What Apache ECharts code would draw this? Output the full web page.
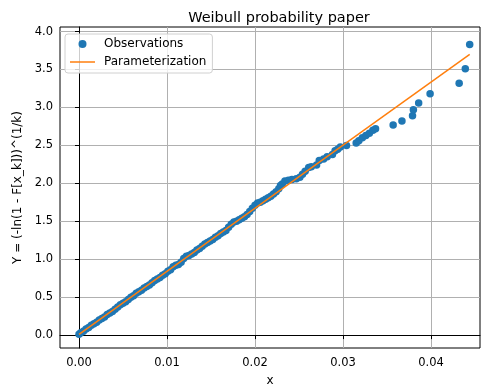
<!DOCTYPE html>
<html>
<head>
<meta charset="utf-8">
<script src="https://cdn.jsdelivr.net/npm/echarts@6/dist/echarts.min.js"></script>
<style>
  html, body { margin: 0; padding: 0; background: #fff; }
  #chart { width: 481px; height: 387px; }
</style>
</head>
<body>
<div id="chart"></div>
<script>
// observed x values (sorted) and their transformed Y values
const obsX = [
  0.0000, 0.0002, 0.0005, 0.0008, 0.0011, 0.0014, 0.0017, 0.0020, 0.0023, 0.0026,
  0.0029, 0.0032, 0.0035, 0.0038, 0.0041, 0.0044, 0.0047, 0.0050, 0.0053, 0.0056,
  0.0059, 0.0062, 0.0065, 0.0068, 0.0071, 0.0074, 0.0077, 0.0080, 0.0083, 0.0086,
  0.0089, 0.0092, 0.0095, 0.0098, 0.0101, 0.0104, 0.0107, 0.0110, 0.0113, 0.0116,
  0.0119, 0.0122, 0.0125, 0.0128, 0.0131, 0.0134, 0.0137, 0.0140, 0.0143, 0.0146,
  0.0149, 0.0152, 0.0155, 0.0158, 0.0161, 0.0164, 0.0167, 0.0170, 0.0173, 0.0176,
  0.0179, 0.0182, 0.0185, 0.0188, 0.0191, 0.0194, 0.0197, 0.0200, 0.0203, 0.0206,
  0.0209, 0.0212, 0.0215, 0.0218, 0.0221, 0.0224, 0.0227, 0.0229,
  0.0231, 0.0234, 0.0238, 0.0242, 0.0247, 0.0251, 0.0254, 0.0257, 0.0261, 0.0264,
  0.0270, 0.0273, 0.0278, 0.0282, 0.0288, 0.0291, 0.0294, 0.0297, 0.0304, 0.0315,
  0.0318, 0.0322, 0.0326, 0.0330, 0.0334, 0.0337, 0.0357, 0.0367, 0.0379, 0.0380,
  0.0386, 0.0399, 0.0432, 0.0439, 0.0444
];
const obsY = [
  0.01, 0.03, 0.05, 0.08, 0.10, 0.13, 0.15, 0.17, 0.20, 0.22,
  0.24, 0.27, 0.29, 0.31, 0.34, 0.37, 0.40, 0.42, 0.44, 0.47,
  0.50, 0.52, 0.55, 0.57, 0.59, 0.62, 0.64, 0.66, 0.69, 0.72,
  0.74, 0.76, 0.79, 0.81, 0.84, 0.86, 0.90, 0.92, 0.93, 0.96,
  1.01, 1.04, 1.05, 1.07, 1.09, 1.12, 1.14, 1.17, 1.20, 1.22,
  1.24, 1.26, 1.29, 1.31, 1.34, 1.36, 1.38, 1.42, 1.46, 1.49,
  1.50, 1.52, 1.54, 1.56, 1.59, 1.63, 1.67, 1.71, 1.74, 1.75,
  1.77, 1.79, 1.81, 1.83, 1.86, 1.89, 1.93, 1.97,
  1.99, 2.03, 2.04, 2.05, 2.06, 2.08, 2.12, 2.16, 2.21, 2.22,
  2.24, 2.30, 2.32, 2.35, 2.38, 2.43, 2.45, 2.48, 2.50, 2.53,
  2.56, 2.60, 2.63, 2.66, 2.70, 2.72, 2.77, 2.82, 2.89, 2.97,
  3.06, 3.18, 3.32, 3.51, 3.83
];
// fitted line end points
const fitX = [0.0, 0.0444];
const fitY = [0.01, 3.70];

const xTicks = [0, 0.01, 0.02, 0.03, 0.04];
const yTicks = [0, 0.5, 1.0, 1.5, 2.0, 2.5, 3.0, 3.5, 4.0];

const chart = echarts.init(document.getElementById('chart'));
const font = 'DejaVu Sans';

const option = {
  animation: false,
  backgroundColor: '#fff',
  title: {
    text: 'Weibull probability paper',
    left: 274,
    top: 6,
    textAlign: 'center',
    textStyle: { fontFamily: font, fontSize: 14.5, fontWeight: 'normal', color: '#000' }
  },
  legend: {
    orient: 'vertical',
    left: 65,
    top: 34,
    padding: [4, 6, 5, 5],
    itemWidth: 25,
    itemHeight: 8,
    itemGap: 6,
    backgroundColor: 'rgba(255,255,255,0.8)',
    borderColor: '#d0d0d0',
    borderWidth: 1,
    borderRadius: 3,
    textStyle: { fontFamily: font, fontSize: 12, color: '#000', padding: [0, 0, 0, 4] },
    data: [
      { name: 'Observations', icon: 'circle' },
      { name: 'Parameterization', icon: 'path://M0,0 L25,0 L25,1.5 L0,1.5 Z', symbolKeepAspect: true }
    ]
  },
  grid: {
    left: 60, right: 1, top: 27, bottom: 39,
    outerBoundsMode: 'none',
    containLabel: false,
    show: true,
    borderColor: '#000',
    borderWidth: 1
  },
  xAxis: {
    type: 'value',
    min: -0.00216,
    max: 0.04557,
    name: 'x',
    nameLocation: 'middle',
    nameGap: 27,
    nameTextStyle: { fontFamily: font, fontSize: 12, color: '#000' },
    axisLine: { show: true, lineStyle: { color: '#000' } },
    axisTick: { show: true, length: 4, customValues: xTicks, lineStyle: { color: '#000' } },
    axisLabel: {
      customValues: xTicks,
      margin: 9,
      fontFamily: font, fontSize: 11.5, color: '#000',
      formatter: (v) => v.toFixed(2)
    },
    splitLine: { show: true, lineStyle: { color: '#b0b0b0', width: 1 } }
  },
  yAxis: {
    type: 'value',
    min: -0.17,
    max: 4.06,
    name: 'Y = (-ln(1 - F[x_k]))^(1/k)',
    nameLocation: 'middle',
    nameGap: 30,
    nameTextStyle: { fontFamily: font, fontSize: 12, color: '#000' },
    axisLine: { show: true, lineStyle: { color: '#000' } },
    axisTick: { show: true, length: 4, customValues: yTicks, lineStyle: { color: '#000' } },
    axisLabel: {
      customValues: yTicks,
      margin: 7,
      fontFamily: font, fontSize: 11.5, color: '#000',
      formatter: (v) => v.toFixed(1)
    },
    splitLine: { show: true, lineStyle: { color: '#b0b0b0', width: 1 } }
  },
  series: [
    {
      name: 'Observations',
      type: 'scatter',
      symbol: 'circle',
      symbolSize: 7.5,
      itemStyle: { color: '#1f77b4', opacity: 1 },
      data: obsX.map((x, i) => [x, obsY[i]]),
      z: 2
    },
    {
      name: 'Parameterization',
      type: 'line',
      symbol: 'none',
      lineStyle: { color: '#ff7f0e', width: 1.5 },
      itemStyle: { color: '#ff7f0e' },
      data: fitX.map((x, i) => [x, fitY[i]]),
      z: 3
    }
  ]
};

chart.setOption(option);
</script>
</body>
</html>
